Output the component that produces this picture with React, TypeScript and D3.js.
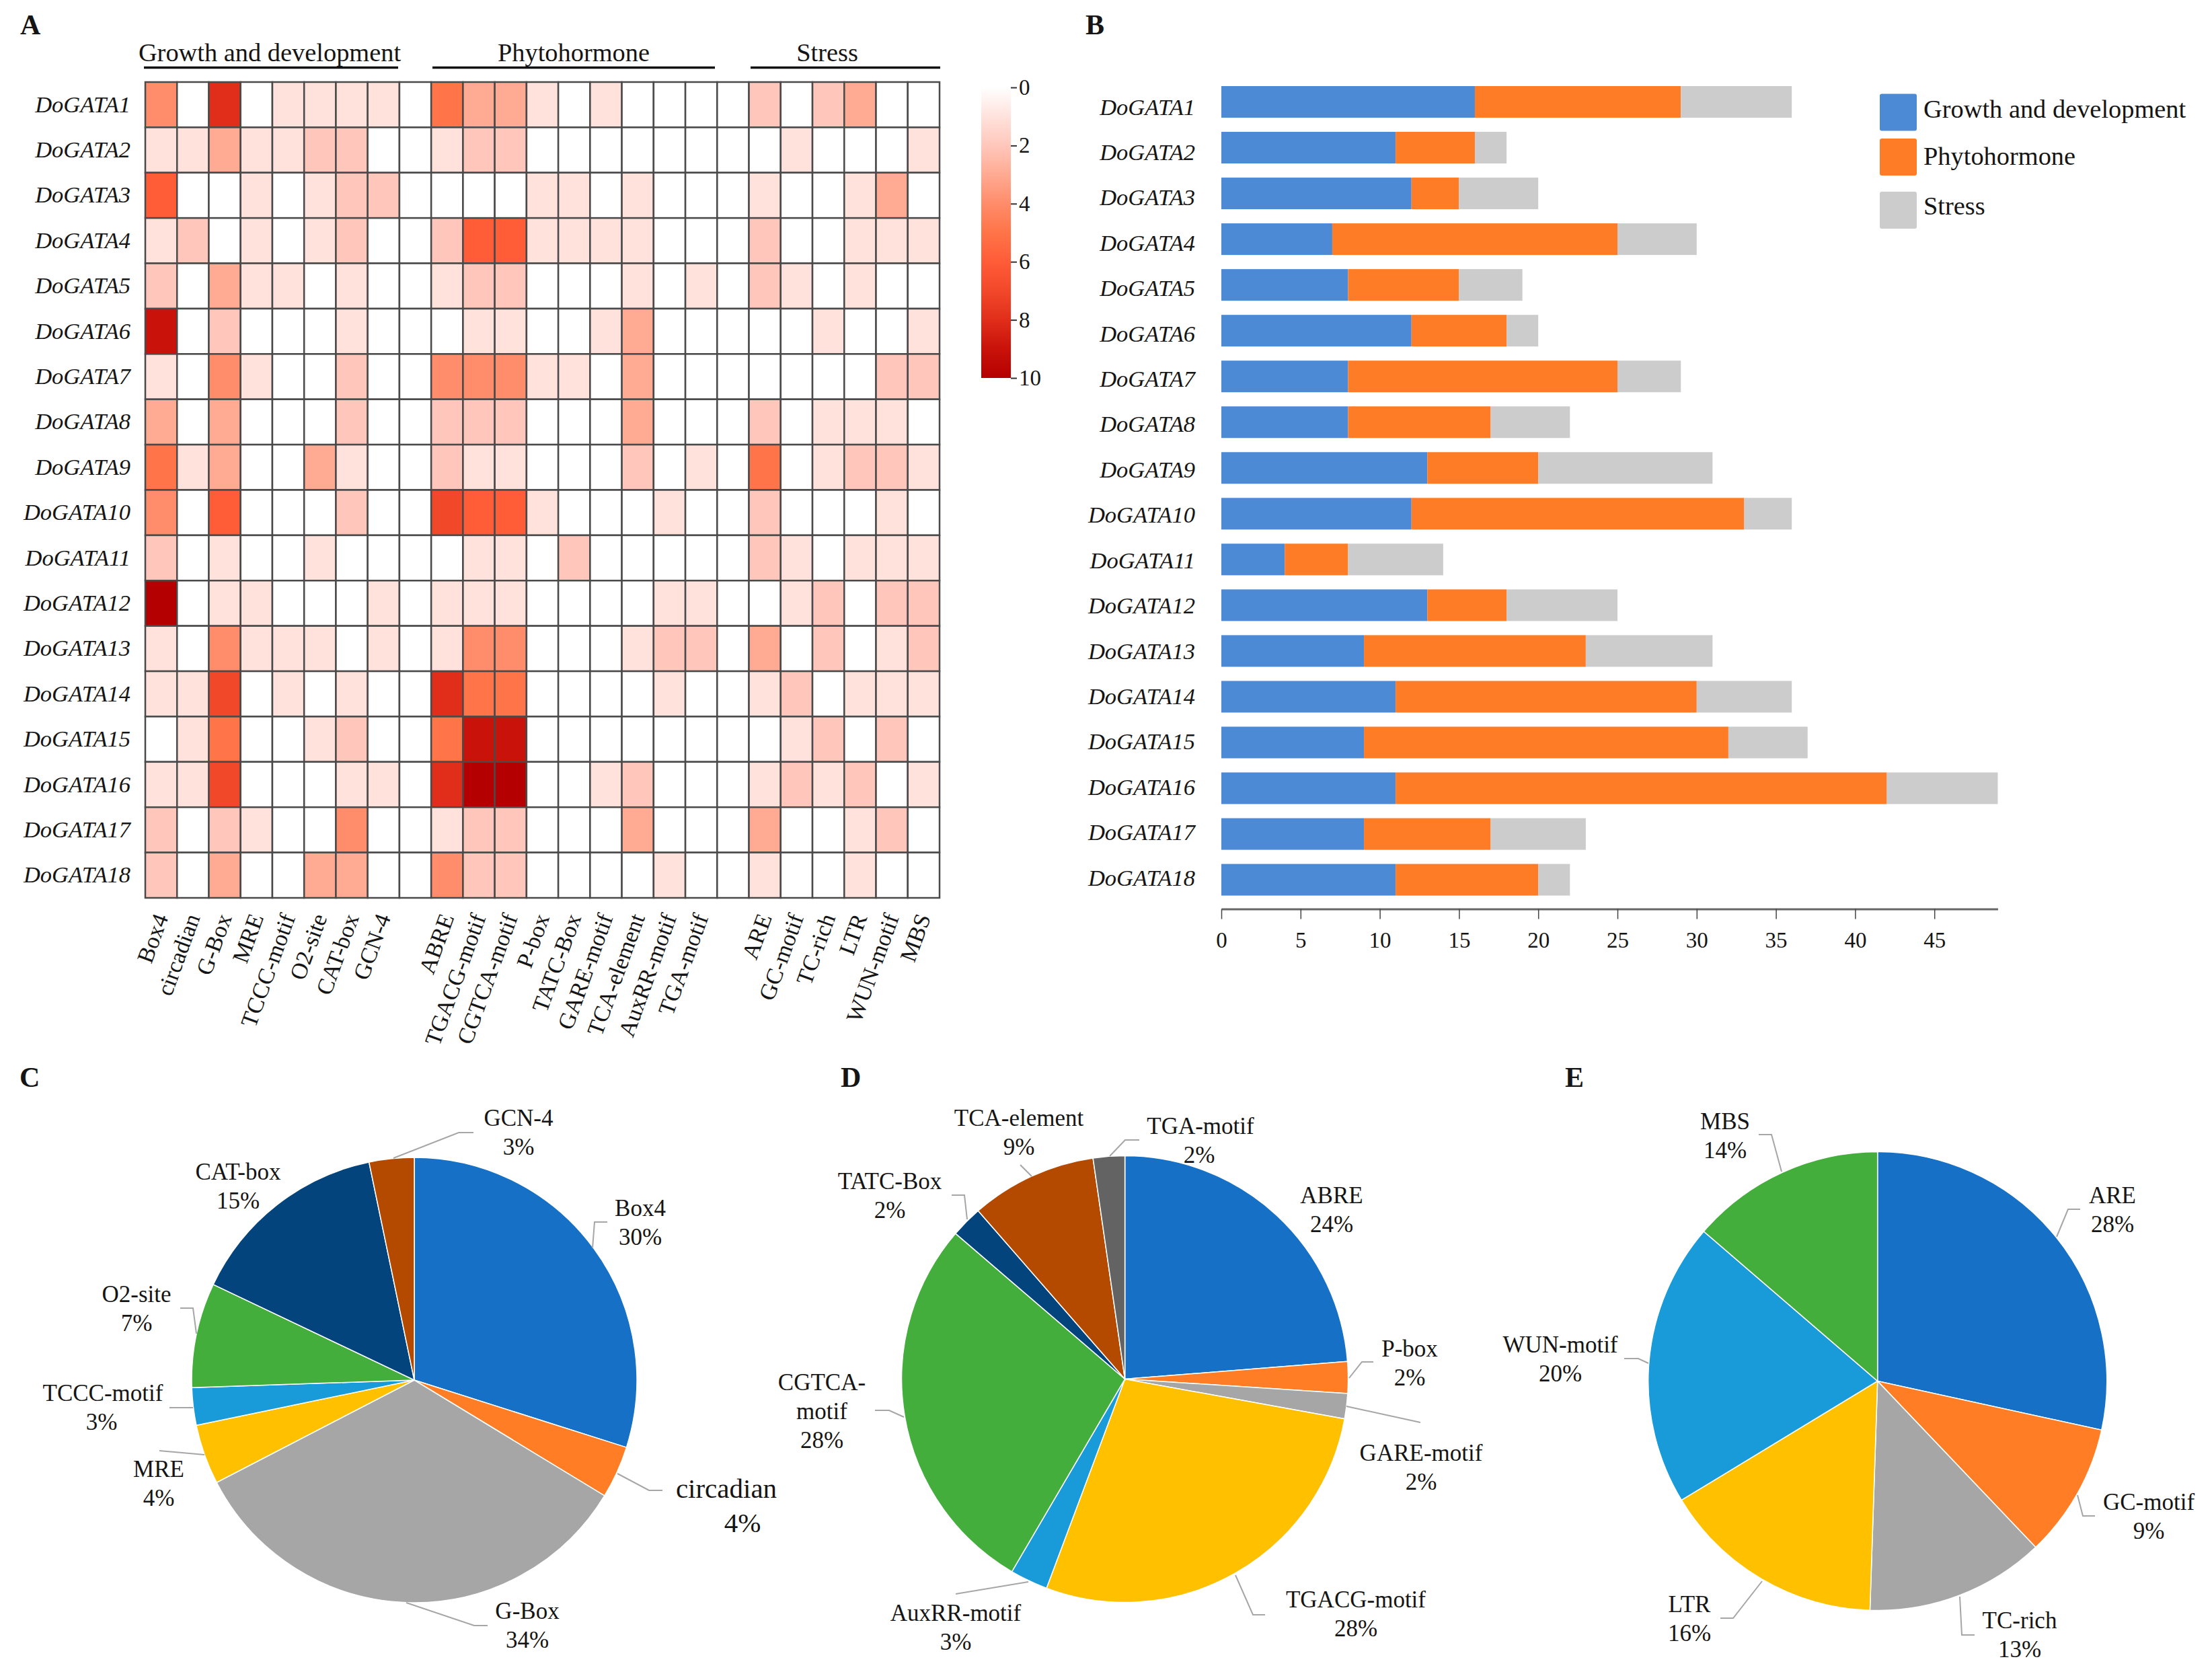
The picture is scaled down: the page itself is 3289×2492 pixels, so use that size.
import React, { useRef, useEffect } from 'react';
import * as d3 from 'd3';

const genes = Array.from({ length: 18 }, (_, i) => `DoGATA${i + 1}`);

const growthMotifs = ['Box4', 'circadian', 'G-Box', 'MRE', 'TCCC-motif', 'O2-site', 'CAT-box', 'GCN-4'];
const hormoneMotifs = ['ABRE', 'TGACG-motif', 'CGTCA-motif', 'P-box', 'TATC-Box', 'GARE-motif', 'TCA-element', 'AuxRR-motif', 'TGA-motif'];
const stressMotifs = ['ARE', 'GC-motif', 'TC-rich', 'LTR', 'WUN-motif', 'MBS'];
const heatColumns = [...growthMotifs, 'gap1', ...hormoneMotifs, 'gap2', ...stressMotifs];

// counts per gene, same column order as the motif lists
const growthCounts = [
  [4, 0, 8, 0, 1, 1, 1, 1],
  [1, 1, 3, 1, 1, 2, 2, 0],
  [6, 0, 0, 1, 0, 1, 2, 2],
  [1, 2, 0, 1, 0, 1, 2, 0],
  [2, 0, 3, 1, 1, 0, 1, 0],
  [9, 0, 2, 0, 0, 0, 1, 0],
  [1, 0, 4, 1, 0, 0, 2, 0],
  [3, 0, 3, 0, 0, 0, 2, 0],
  [5, 1, 3, 0, 0, 3, 1, 0],
  [4, 0, 6, 0, 0, 0, 2, 0],
  [2, 0, 1, 0, 0, 1, 0, 0],
  [10, 0, 1, 1, 0, 0, 0, 1],
  [1, 0, 4, 1, 1, 1, 0, 1],
  [1, 1, 7, 0, 1, 0, 1, 0],
  [0, 1, 5, 0, 0, 1, 2, 0],
  [1, 1, 7, 0, 0, 0, 1, 1],
  [2, 0, 2, 1, 0, 0, 4, 0],
  [2, 0, 3, 0, 0, 3, 3, 0],
];
const hormoneCounts = [
  [5, 3, 3, 1, 0, 1, 0, 0, 0],
  [1, 2, 2, 0, 0, 0, 0, 0, 0],
  [0, 0, 0, 1, 1, 0, 1, 0, 0],
  [2, 6, 6, 1, 1, 1, 1, 0, 0],
  [1, 2, 2, 0, 0, 0, 1, 0, 1],
  [0, 1, 1, 0, 0, 1, 3, 0, 0],
  [4, 4, 4, 1, 1, 0, 3, 0, 0],
  [2, 2, 2, 0, 0, 0, 3, 0, 0],
  [2, 1, 1, 0, 0, 0, 2, 0, 1],
  [7, 6, 6, 1, 0, 0, 0, 1, 0],
  [0, 1, 1, 0, 2, 0, 0, 0, 0],
  [1, 1, 1, 0, 0, 0, 0, 1, 1],
  [1, 4, 4, 0, 0, 0, 1, 2, 2],
  [8, 5, 5, 0, 0, 0, 0, 1, 0],
  [5, 9, 9, 0, 0, 0, 0, 0, 0],
  [8, 10, 10, 0, 0, 1, 2, 0, 0],
  [1, 2, 2, 0, 0, 0, 3, 0, 0],
  [4, 2, 2, 0, 0, 0, 0, 1, 0],
];
const stressCounts = [
  [2, 0, 2, 3, 0, 0],
  [0, 1, 0, 0, 0, 1],
  [1, 0, 0, 1, 3, 0],
  [2, 0, 0, 1, 1, 1],
  [2, 1, 0, 1, 0, 0],
  [0, 0, 1, 0, 0, 1],
  [0, 0, 0, 0, 2, 2],
  [2, 0, 1, 1, 1, 0],
  [5, 0, 1, 2, 2, 1],
  [2, 0, 0, 0, 1, 0],
  [2, 1, 0, 1, 1, 1],
  [0, 1, 2, 0, 2, 2],
  [3, 0, 2, 0, 1, 2],
  [1, 2, 0, 1, 1, 1],
  [0, 1, 2, 0, 2, 0],
  [1, 2, 1, 2, 0, 1],
  [3, 0, 0, 1, 2, 0],
  [1, 0, 0, 1, 0, 0],
];

const heatLevels = [0, 1, 2, 3, 4, 5, 6, 7, 8, 9, 10];
const heatColors = ['#ffffff', '#ffe2dc', '#ffc7bb', '#ffaa92', '#ff8c6a', '#ff7448', '#ff5c38', '#f2482a', '#e02e1a', '#c8120a', '#b40000'];
const colorbarTicks = [0, 2, 4, 6, 8, 10];

const categoryNames = ['Growth and development', 'Phytohormone', 'Stress'];
const categoryColors = ['#4d8ad6', '#ff7c27', '#cccccc'];
const growthTotals = [16, 11, 12, 7, 8, 12, 8, 8, 13, 12, 4, 13, 9, 11, 9, 11, 9, 11];
const hormoneTotals = [13, 5, 3, 18, 7, 6, 17, 9, 7, 21, 4, 5, 14, 19, 23, 31, 8, 9];
const stressTotals = [7, 2, 5, 5, 4, 2, 4, 5, 11, 3, 6, 7, 8, 6, 5, 7, 6, 2];
const barTicks = [0, 5, 10, 15, 20, 25, 30, 35, 40, 45];

const pieColors = ['#1670c6', '#ff7d24', '#a6a6a6', '#ffc000', '#1a9bd9', '#44ae3c', '#03447c', '#b44a00', '#636363'];

const pieCNames = ['Box4', 'circadian', 'G-Box', 'MRE', 'TCCC-motif', 'O2-site', 'CAT-box', 'GCN-4'];
const pieCCounts = [55, 7, 62, 8, 5, 14, 27, 6];
const pieCPercents = ['30%', '4%', '34%', '4%', '3%', '7%', '15%', '3%'];

const pieDNames = ['ABRE', 'P-box', 'GARE-motif', 'TGACG-motif', 'AuxRR-motif', 'CGTCA-\nmotif', 'TATC-Box', 'TCA-element', 'TGA-motif'];
const pieDCounts = [52, 5, 4, 61, 6, 61, 5, 20, 5];
const pieDPercents = ['24%', '2%', '2%', '28%', '3%', '28%', '2%', '9%', '2%'];

const pieENames = ['ARE', 'GC-motif', 'TC-rich', 'LTR', 'WUN-motif', 'MBS'];
const pieECounts = [27, 9, 12, 15, 19, 13];
const pieEPercents = ['28%', '9%', '13%', '16%', '20%', '14%'];

// label placement for the pies: [x, first baseline], then the leader line
type LabelPlace = { x: number; y: number; leader?: number[][]; size?: number; pctX?: number; lh?: number };

const pieCPlaces: LabelPlace[] = [
  { x: 952, y: 1808, leader: [[903, 1817], [884, 1817], [881, 1856]] },
  { x: 1080, y: 2227, size: 41, pctX: 1104, lh: 51, leader: [[985, 2216], [965, 2216], [918, 2191]] },
  { x: 784, y: 2407, leader: [[725, 2417], [705, 2417], [604, 2383]] },
  { x: 236, y: 2196, leader: [[237, 2157], [304, 2163]] },
  { x: 153, y: 2083, pctX: 151, leader: [[252, 2093], [287, 2093]] },
  { x: 203, y: 1936, leader: [[268, 1945], [287, 1945], [292, 1983]] },
  { x: 354, y: 1754 },
  { x: 771, y: 1674, leader: [[704, 1684], [682, 1684], [585, 1722]] },
];
const pieDPlaces: LabelPlace[] = [
  { x: 1980, y: 1789 },
  { x: 2096, y: 2017, leader: [[2042, 2025], [2025, 2025], [2006, 2049]] },
  { x: 2113, y: 2172, leader: [[2112, 2115], [2002, 2091]] },
  { x: 2016, y: 2390, leader: [[1881, 2401], [1863, 2401], [1837, 2342]] },
  { x: 1421, y: 2410, leader: [[1421, 2370], [1529, 2352]] },
  { x: 1222, y: 2067, leader: [[1301, 2097], [1322, 2097], [1344, 2107]] },
  { x: 1323, y: 1768, leader: [[1415, 1777], [1434, 1777], [1438, 1813]] },
  { x: 1515, y: 1674, leader: [[1517, 1732], [1534, 1749]] },
  { x: 1785, y: 1686, pctX: 1783, leader: [[1694, 1695], [1673, 1695], [1650, 1719]] },
];
const pieEPlaces: LabelPlace[] = [
  { x: 3141, y: 1789, leader: [[3093, 1798], [3075, 1798], [3058, 1839]] },
  { x: 3195, y: 2245, leader: [[3115, 2254], [3097, 2254], [3089, 2223]] },
  { x: 3003, y: 2421, leader: [[2936, 2431], [2917, 2431], [2914, 2374]] },
  { x: 2512, y: 2397, leader: [[2558, 2406], [2577, 2406], [2620, 2351]] },
  { x: 2320, y: 2011, leader: [[2415, 2020], [2436, 2020], [2451, 2027]] },
  { x: 2565, y: 1679, leader: [[2615, 1687], [2634, 1687], [2649, 1742]] },
];

const SERIF = '"Liberation Serif", "Times New Roman", serif';
const INK = '#151515';

const App: React.FC = () => {
  const svgRef = useRef<SVGSVGElement>(null);

  useEffect(() => {
    if (!svgRef.current) return;
    const svg = d3.select(svgRef.current);
    svg.selectAll('*').remove();
    svg.attr('font-family', SERIF).attr('fill', INK);

    // Panel letters
    [['A', 30, 51], ['B', 1614, 51], ['C', 29, 1616], ['D', 1250, 1616], ['E', 2327, 1616]].forEach(([t, x, y]) => {
      svg.append('text').attr('x', x).attr('y', y).attr('font-size', 42).attr('font-weight', 'bold').text(t as string);
    });

    // --- Heatmap ---
    const heatX = d3.scaleBand().domain(heatColumns).range([216, 1397]);
    const heatY = d3.scaleBand().domain(genes).range([122, 1335]);
    const heatColor = d3.scaleLinear<string>().domain(heatLevels).range(heatColors);

    const heat = svg.append('g');
    genes.forEach((gene, r) => {
      const rowValues: Record<string, number> = {};
      growthMotifs.forEach((m, c) => { rowValues[m] = growthCounts[r][c]; });
      hormoneMotifs.forEach((m, c) => { rowValues[m] = hormoneCounts[r][c]; });
      stressMotifs.forEach((m, c) => { rowValues[m] = stressCounts[r][c]; });
      heatColumns.forEach(col => {
        heat.append('rect')
          .attr('x', heatX(col)!)
          .attr('y', heatY(gene)!)
          .attr('width', heatX.bandwidth())
          .attr('height', heatY.bandwidth())
          .attr('fill', heatColor(rowValues[col] ?? 0))
          .attr('stroke', '#4a4a4a')
          .attr('stroke-width', 2.5);
      });
      heat.append('text')
        .attr('x', 194)
        .attr('y', heatY(gene)! + heatY.bandwidth() / 2 + 11)
        .attr('text-anchor', 'end')
        .attr('font-size', 34.5)
        .attr('font-style', 'italic')
        .text(gene);
    });

    heatColumns.filter(c => !c.startsWith('gap')).forEach(col => {
      const cx = heatX(col)! + heatX.bandwidth() / 2;
      heat.append('text')
        .attr('transform', `translate(${cx + 11},1364) rotate(-70)`)
        .attr('text-anchor', 'end')
        .attr('font-size', 34.5)
        .text(col);
    });

    // Category headers above the heatmap
    [
      { name: categoryNames[0], cx: 401, x1: 214, x2: 592 },
      { name: categoryNames[1], cx: 853, x1: 643, x2: 1063 },
      { name: categoryNames[2], cx: 1230, x1: 1116, x2: 1398 },
    ].forEach(h => {
      svg.append('text').attr('x', h.cx).attr('y', 91).attr('text-anchor', 'middle').attr('font-size', 38.4).text(h.name);
      svg.append('line').attr('x1', h.x1).attr('x2', h.x2).attr('y1', 100.5).attr('y2', 100.5)
        .attr('stroke', '#111').attr('stroke-width', 3.5);
    });

    // Colour bar
    const defs = svg.append('defs');
    const grad = defs.append('linearGradient').attr('id', 'heat-grad').attr('x1', 0).attr('x2', 0).attr('y1', 0).attr('y2', 1);
    heatLevels.forEach(l => {
      grad.append('stop').attr('offset', `${l * 10}%`).attr('stop-color', heatColor(l));
    });
    const barScale = d3.scaleLinear().domain([0, 10]).range([130, 562]);
    svg.append('rect').attr('x', 1459).attr('y', 130).attr('width', 44).attr('height', 432).attr('fill', 'url(#heat-grad)');
    svg.append('g')
      .attr('transform', 'translate(1503,0)')
      .call(d3.axisRight(barScale).tickValues(colorbarTicks).tickSize(9).tickPadding(3).tickFormat(d => String(d)))
      .call(g => g.select('.domain').remove())
      .call(g => g.selectAll('.tick line').attr('stroke', '#333').attr('stroke-width', 2))
      .call(g => g.selectAll('.tick text').attr('fill', INK).attr('font-size', 33).attr('font-family', SERIF));

    // --- Stacked bars ---
    const barX = d3.scaleLinear().domain([0, 49]).range([1816, 1816 + 49 * 23.56]);
    const barY = d3.scaleBand().domain(genes).range([128, 1331.6]).paddingInner(21 / 68).paddingOuter(0);
    const stackRows = genes.map((gene, i) => ({ gene, g: growthTotals[i], p: hormoneTotals[i], s: stressTotals[i] }));
    const stacked = d3.stack<any>().keys(['g', 'p', 's'])(stackRows);

    const bars = svg.append('g');
    stacked.forEach((layer, k) => {
      layer.forEach(seg => {
        bars.append('rect')
          .attr('x', barX(seg[0]))
          .attr('y', barY(seg.data.gene)!)
          .attr('width', barX(seg[1]) - barX(seg[0]))
          .attr('height', barY.bandwidth())
          .attr('fill', categoryColors[k]);
      });
    });

    const barLabelY = d3.scaleLinear().domain([0, 17]).range([170.6, 1316.6]);
    genes.forEach((gene, i) => {
      bars.append('text')
        .attr('x', 1777)
        .attr('y', barLabelY(i))
        .attr('text-anchor', 'end')
        .attr('font-size', 34.5)
        .attr('font-style', 'italic')
        .text(gene);
    });

    svg.append('g')
      .attr('transform', 'translate(0,1351.5)')
      .call(d3.axisBottom(barX).tickValues(barTicks).tickSize(15).tickPadding(19).tickFormat(d => String(d)).tickSizeOuter(0))
      .call(g => g.select('.domain').attr('stroke', '#666').attr('stroke-width', 3))
      .call(g => g.selectAll('.tick line').attr('stroke', '#444').attr('stroke-width', 1.5))
      .call(g => g.selectAll('.tick text').attr('fill', INK).attr('font-size', 33).attr('font-family', SERIF));

    // Legend
    const legendY = [139.6, 206, 285];
    const legendBase = [174.5, 245, 319];
    categoryNames.forEach((name, i) => {
      svg.append('rect').attr('x', 2795).attr('y', legendY[i]).attr('width', 55).attr('height', 55)
        .attr('rx', 3).attr('fill', categoryColors[i]);
      svg.append('text').attr('x', 2860).attr('y', legendBase[i]).attr('font-size', 38.4).text(name);
    });

    // --- Pies ---
    const drawPie = (cx: number, cy: number, r: number, values: number[], names: string[], pcts: string[], places: LabelPlace[]) => {
      const arcs = d3.pie<number>().sort(null)(values);
      const arc = d3.arc<d3.PieArcDatum<number>>().innerRadius(0).outerRadius(r);
      const line = d3.line();
      const g = svg.append('g');
      arcs.forEach((a, i) => {
        g.append('path')
          .attr('transform', `translate(${cx},${cy})`)
          .attr('d', arc(a))
          .attr('fill', pieColors[i])
          .attr('stroke', '#fff')
          .attr('stroke-width', 1.5);
      });
      places.forEach((p, i) => {
        const size = p.size ?? 35;
        const lh = p.lh ?? 43;
        const lines = names[i].split('\n');
        lines.forEach((t, j) => {
          g.append('text').attr('x', p.x).attr('y', p.y + j * lh)
            .attr('text-anchor', 'middle').attr('font-size', size).text(t);
        });
        g.append('text').attr('x', p.pctX ?? p.x).attr('y', p.y + lines.length * lh)
          .attr('text-anchor', 'middle').attr('font-size', size).text(pcts[i]);
        if (p.leader) {
          g.append('path')
            .attr('d', line(p.leader as [number, number][]))
            .attr('fill', 'none')
            .attr('stroke', '#a6a6a6')
            .attr('stroke-width', 2);
        }
      });
    };

    drawPie(616, 2052, 331, pieCCounts, pieCNames, pieCPercents, pieCPlaces);
    drawPie(1672.6, 2050.5, 332, pieDCounts, pieDNames, pieDPercents, pieDPlaces);
    drawPie(2791.7, 2053.5, 341, pieECounts, pieENames, pieEPercents, pieEPlaces);
  }, []);

  return (
    <svg
      ref={svgRef}
      width={3289}
      height={2492}
      viewBox="0 0 3289 2492"
      style={{ position: 'absolute', left: 0, top: 0, background: '#fff' }}
    />
  );
};

export default App;
